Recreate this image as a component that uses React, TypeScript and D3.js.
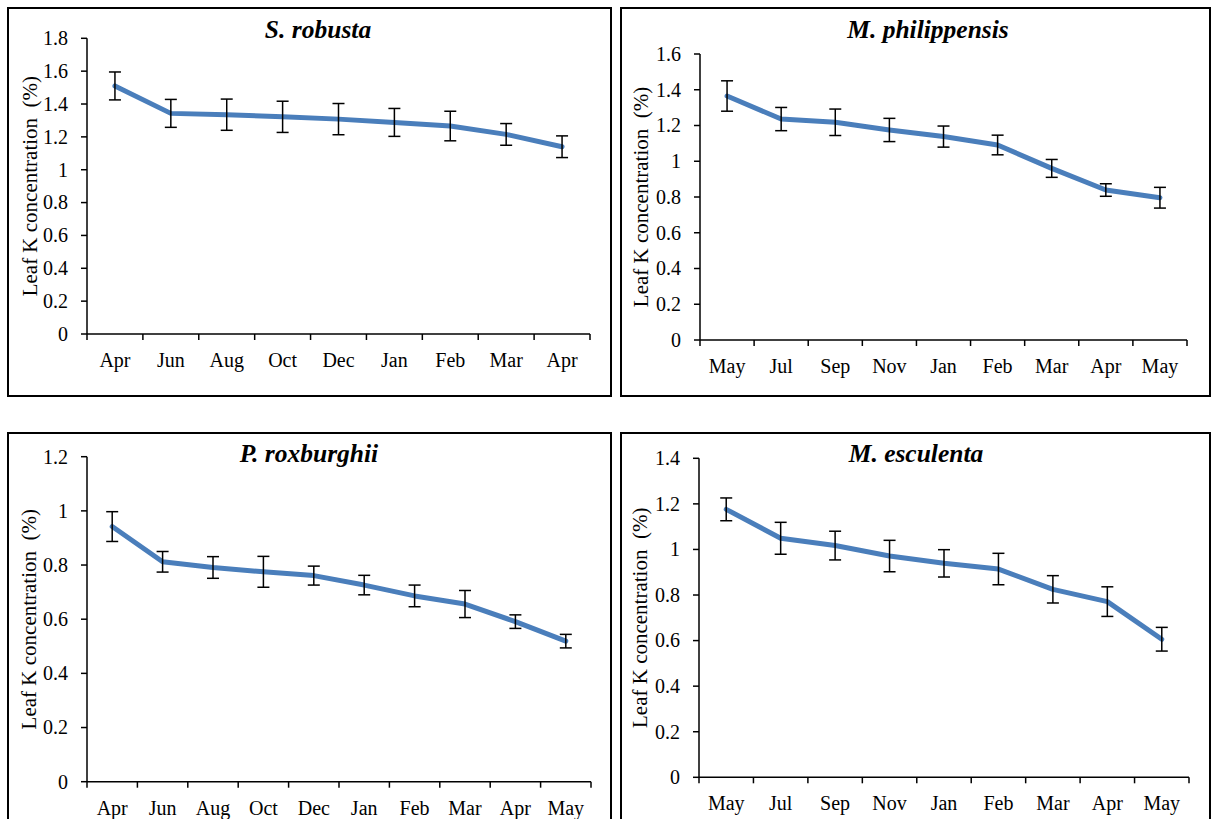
import React from "react";
import * as d3 from "d3";

// ---------- data ----------
const monthsSR = ["Apr", "Jun", "Aug", "Oct", "Dec", "Jan", "Feb", "Mar", "Apr"];
const valuesSR = [1.51, 1.343, 1.335, 1.322, 1.308, 1.288, 1.266, 1.215, 1.14];
const errorsSR = [0.085, 0.085, 0.095, 0.095, 0.095, 0.085, 0.09, 0.066, 0.066];

const monthsMP = ["May", "Jul", "Sep", "Nov", "Jan", "Feb", "Mar", "Apr", "May"];
const valuesMP = [1.365, 1.236, 1.218, 1.175, 1.138, 1.091, 0.96, 0.839, 0.796];
const errorsMP = [0.085, 0.065, 0.074, 0.065, 0.059, 0.055, 0.05, 0.035, 0.058];

const monthsPR = ["Apr", "Jun", "Aug", "Oct", "Dec", "Jan", "Feb", "Mar", "Apr", "May"];
const valuesPR = [0.942, 0.812, 0.791, 0.775, 0.761, 0.726, 0.686, 0.656, 0.591, 0.519];
const errorsPR = [0.055, 0.038, 0.04, 0.057, 0.035, 0.036, 0.04, 0.05, 0.025, 0.025];

const monthsME = ["May", "Jul", "Sep", "Nov", "Jan", "Feb", "Mar", "Apr", "May"];
const valuesME = [1.176, 1.049, 1.017, 0.971, 0.939, 0.914, 0.825, 0.771, 0.606];
const errorsME = [0.05, 0.07, 0.063, 0.069, 0.06, 0.069, 0.06, 0.065, 0.052];

const yMaxes = [1.8, 1.6, 1.2, 1.4];
const titles = ["S. robusta", "M. philippensis", "P. roxburghii", "M. esculenta"];
const yLabel = "Leaf K concentration  (%)";

// ---------- layout ----------
const layouts = [
  { box: [8, 8, 603, 388], plot: [87, 590, 38.3, 334], title: [318, 38], ylx: 30 },
  { box: [621, 8, 589, 388], plot: [700, 1187, 54, 340], title: [928, 38], ylx: 641 },
  { box: [8, 433, 603, 400], plot: [87, 591, 456.7, 781.7], title: [309, 462], ylx: 29 },
  { box: [621, 433, 589, 400], plot: [699, 1189, 458.3, 777.3], title: [916, 462], ylx: 640 },
];

const panelData = [
  { months: monthsSR, values: valuesSR, errors: errorsSR },
  { months: monthsMP, values: valuesMP, errors: errorsMP },
  { months: monthsPR, values: valuesPR, errors: errorsPR },
  { months: monthsME, values: valuesME, errors: errorsME },
];

const FONT = "'Liberation Serif', 'Times New Roman', serif";
const LINE = "#4A7EBB";

function Panel({ idx }: { idx: number }) {
  const { months, values, errors } = panelData[idx];
  const L = layouts[idx];
  const [bx, by, bw, bh] = L.box;
  const [left, right, top, bottom] = L.plot;
  const idxs = months.map((_, i) => i);
  const x = d3.scaleBand<number>().domain(idxs).range([left, right]).padding(0);
  const y = d3.scaleLinear().domain([0, yMaxes[idx]]).range([bottom, top]);
  const ticks = d3.range(0, yMaxes[idx] + 1e-9, 0.2);
  const cx = (i: number) => (x(i) as number) + x.bandwidth() / 2;
  const line = d3
    .line<number>()
    .x((_, i) => cx(i))
    .y((v) => y(v));
  const boundaries = d3.range(months.length + 1).map((i) => left + i * x.bandwidth());
  const fmt = (v: number) => String(+v.toFixed(1));
  return (
    <g>
      <rect x={bx} y={by} width={bw} height={bh} fill="white" stroke="black" strokeWidth={2} />
      <text
        x={L.title[0]}
        y={L.title[1]}
        textAnchor="middle"
        fontFamily={FONT}
        fontWeight="bold"
        fontStyle="italic"
        fontSize={25.5}
      >
        {titles[idx]}
      </text>
      {/* y axis */}
      <line x1={left} x2={left} y1={top} y2={bottom} stroke="black" strokeWidth={1.5} />
      {ticks.map((t) => (
        <g key={t}>
          <line x1={left - 6} x2={left} y1={y(t)} y2={y(t)} stroke="black" strokeWidth={1.5} />
          <text
            x={left - 19}
            y={y(t)}
            dy="0.34em"
            textAnchor="end"
            fontFamily={FONT}
            fontSize={20}
          >
            {fmt(t)}
          </text>
        </g>
      ))}
      {/* x axis */}
      <line x1={left} x2={right} y1={bottom} y2={bottom} stroke="black" strokeWidth={1.5} />
      {boundaries.map((bxp, i) => (
        <line key={i} x1={bxp} x2={bxp} y1={bottom} y2={bottom + 6} stroke="black" strokeWidth={1.5} />
      ))}
      {months.map((m, i) => (
        <text
          key={i}
          x={cx(i)}
          y={bottom + 33}
          textAnchor="middle"
          fontFamily={FONT}
          fontSize={20}
        >
          {m}
        </text>
      ))}
      {/* y label */}
      <text
        transform={`translate(${L.ylx},${(top + bottom) / 2}) rotate(-90)`}
        textAnchor="middle"
        dy="0.34em"
        fontFamily={FONT}
        fontSize={21}
        style={{ whiteSpace: "pre" }}
      >
        {yLabel}
      </text>
      {/* line */}
      <path
        d={line(values) || ""}
        fill="none"
        stroke={LINE}
        strokeWidth={5}
        strokeLinejoin="round"
        strokeLinecap="round"
      />
      {/* error bars */}
      {values.map((v, i) => {
        const x0 = cx(i);
        const y1 = y(v + errors[i]);
        const y2 = y(v - errors[i]);
        return (
          <g key={i} stroke="black" strokeWidth={1.5}>
            <line x1={x0} x2={x0} y1={y1} y2={y2} />
            <line x1={x0 - 6} x2={x0 + 6} y1={y1} y2={y1} />
            <line x1={x0 - 6} x2={x0 + 6} y1={y2} y2={y2} />
          </g>
        );
      })}
    </g>
  );
}

export default function App() {
  return (
    <svg
      width={1211}
      height={819}
      style={{ position: "absolute", left: 0, top: 0, background: "white" }}
    >
      <rect x={0} y={0} width={1211} height={819} fill="white" />
      {[0, 1, 2, 3].map((i) => (
        <Panel key={i} idx={i} />
      ))}
    </svg>
  );
}
